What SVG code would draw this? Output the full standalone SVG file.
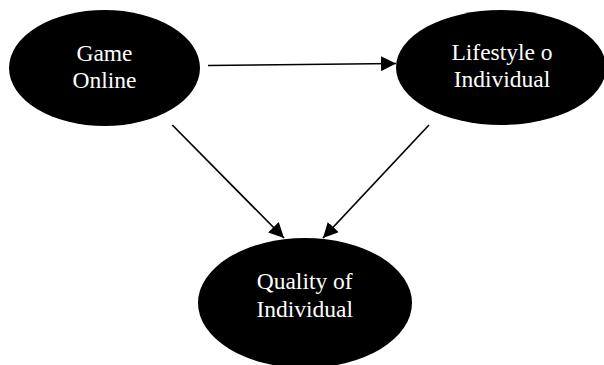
<svg xmlns="http://www.w3.org/2000/svg" width="604" height="365" viewBox="0 0 604 365">
<style>
.node{fill:#000;}
.lbl{font-family:"Liberation Serif","Times New Roman",serif;font-size:23.5px;fill:#fff;text-anchor:middle;}
.edge{stroke:#000;stroke-width:1.7;fill:none;marker-end:url(#ah);}
</style>
<defs>
<marker id="ah" markerUnits="userSpaceOnUse" markerWidth="15" markerHeight="15" refX="15" refY="7.5" orient="auto" viewBox="0 0 15 15">
<path d="M0,0 L15,7.5 L0,15 z" fill="#000"/>
</marker>
</defs>
<rect width="604" height="365" fill="#fff"/>
<g id="game-online">
<ellipse class="node" cx="104.5" cy="68" rx="95.5" ry="58"/>
<text class="lbl" x="104.5" y="61">Game</text>
<text class="lbl" x="104.5" y="87.5">Online</text>
</g>
<g id="lifestyle">
<ellipse class="node" cx="501" cy="67.5" rx="105" ry="57.5"/>
<text class="lbl" x="502" y="60">Lifestyle o</text>
<text class="lbl" x="502" y="86.7">Individual</text>
</g>
<g id="quality">
<ellipse class="node" cx="305" cy="303" rx="107" ry="65"/>
<text class="lbl" x="304.7" y="289.3">Quality of</text>
<text class="lbl" x="304.7" y="316.7">Individual</text>
</g>
<g id="connectors">
<line class="edge" x1="208" y1="65.5" x2="396" y2="63.5"/>
<line class="edge" x1="172.3" y1="125" x2="284" y2="238"/>
<line class="edge" x1="429" y1="125" x2="323" y2="238"/>
</g>
</svg>
